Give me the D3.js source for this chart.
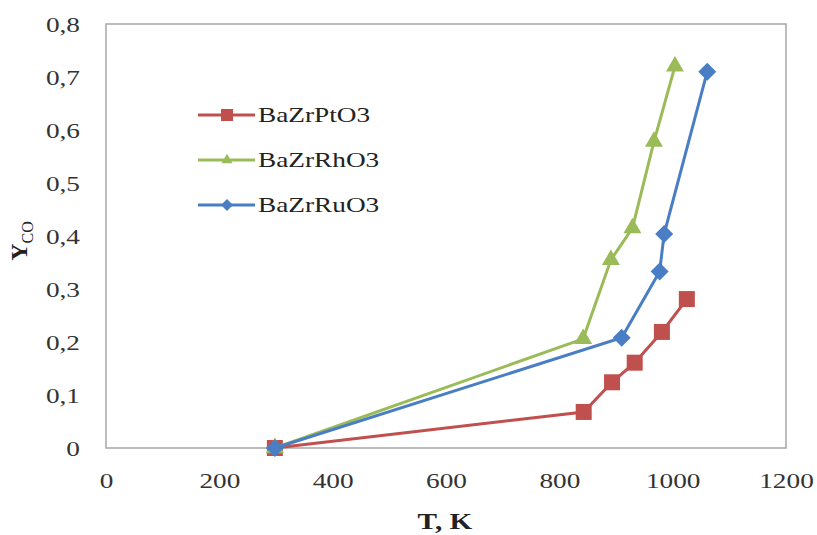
<!DOCTYPE html>
<html><head><meta charset="utf-8">
<script src="https://cdn.jsdelivr.net/npm/d3@7"></script>
<style>body{margin:0;background:#fff}svg{display:block}</style>
</head><body>
<svg id="c" width="817" height="535"></svg>
<script>
const seriesNames = ["BaZrPtO3", "BaZrRhO3", "BaZrRuO3"];
const ptT = [298, 843, 893, 933, 981, 1025];
const ptY = [0.0, 0.068, 0.124, 0.161, 0.219, 0.281];
const rhT = [298, 842, 891, 929, 967, 1004];
const rhY = [0.0, 0.206, 0.355, 0.415, 0.578, 0.72];
const ruT = [298, 910, 977, 985, 1061];
const ruY = [0.0, 0.208, 0.333, 0.404, 0.71];
const xTicks = [0, 200, 400, 600, 800, 1000, 1200];
const yTicks = [0, 0.1, 0.2, 0.3, 0.4, 0.5, 0.6, 0.7, 0.8];
const colors = ["#C0504D", "#9BBB59", "#4A7EC4"];

const svg = d3.select("#c");
const x = d3.scaleLinear().domain([0, 1200]).range([106, 786]);
const y = d3.scaleLinear().domain([0, 0.8]).range([448, 24]);
const fontT = "'Liberation Serif','Times New Roman',serif";
const SX = 1.3;

function marker(i, big) {
  if (i === 0) { const s = big ? 16 : 12; return d3.symbol().type(d3.symbolSquare).size(s * s)(); }
  if (i === 1) { const side = big ? 18 : 11; return d3.symbol().type(d3.symbolTriangle).size(Math.sqrt(3) / 4 * side * side)(); }
  const dg = big ? 18 : 12; const h = dg / 2;
  return `M0,${-h}L${h},0L0,${h}L${-h},0Z`;
}

// frame
svg.append("rect").attr("x", 106).attr("y", 24).attr("width", 680).attr("height", 424)
  .attr("fill", "none").attr("stroke", "#a6a6a6").attr("stroke-width", 1.5);

// axes
const xAxis = d3.axisBottom(x).tickValues(xTicks).tickSize(0).tickFormat(d3.format("d"));
const gx = svg.append("g").attr("transform", "translate(0,448)").call(xAxis);
gx.select(".domain").remove();
gx.selectAll("text").attr("dy", "0.35em").attr("y", 33).attr("x", 0)
  .attr("transform", `scale(${SX},1)`)
  .attr("font-size", 21).attr("font-family", fontT).attr("fill", "#333");

const yAxis = d3.axisLeft(y).tickValues(yTicks).tickSize(0).tickFormat(d => d === 0 ? "0" : d3.format(".1f")(d).replace(".", ","));
const gy = svg.append("g").attr("transform", "translate(106,0)").call(yAxis);
gy.select(".domain").remove();
gy.selectAll("text").attr("x", -26 / SX).attr("dy", "0.35em")
  .attr("transform", `scale(${SX},1)`)
  .attr("font-size", 21).attr("font-family", fontT).attr("fill", "#333");

// titles
svg.append("text").attr("transform", `translate(445,529) scale(1.22,1)`).attr("text-anchor", "middle")
  .attr("font-family", fontT).attr("font-weight", "bold").attr("font-size", 24).attr("fill", "#222").text("T, K");
const yt = svg.append("text").attr("transform", "translate(27,241) rotate(-90)").attr("text-anchor", "middle")
  .attr("font-family", fontT).attr("font-weight", "bold").attr("font-size", 24).attr("fill", "#222");
yt.append("tspan").text("Y");
yt.append("tspan").attr("font-size", 16).attr("font-weight", "normal").attr("dy", 6).text("CO");

// series
const data = [
  {name: seriesNames[0], T: ptT, Y: ptY},
  {name: seriesNames[1], T: rhT, Y: rhY},
  {name: seriesNames[2], T: ruT, Y: ruY}
];
const line = d3.line().x(d => x(d[0])).y(d => y(d[1]));
[0, 1, 2].forEach(i => {
  const s = data[i];
  const pts = s.T.map((t, k) => [t, s.Y[k]]);
  svg.append("path").attr("d", line(pts)).attr("fill", "none").attr("stroke", colors[i]).attr("stroke-width", 3);
  svg.append("g").selectAll("path").data(pts).join("path")
    .attr("transform", d => `translate(${x(d[0])},${y(d[1])})`)
    .attr("d", marker(i, true))
    .attr("fill", colors[i]);
});

// legend
const legY = [115, 160, 205];
data.forEach((s, i) => {
  const g = svg.append("g").attr("transform", `translate(0,${legY[i]})`);
  g.append("line").attr("x1", 198).attr("x2", 255).attr("y1", 0).attr("y2", 0).attr("stroke", colors[i]).attr("stroke-width", 3);
  g.append("path").attr("transform", "translate(227,0)").attr("d", marker(i, false)).attr("fill", colors[i]);
  g.append("text").attr("transform", `translate(258,0) scale(${SX},1)`).attr("dy", "0.35em")
    .attr("font-family", fontT).attr("font-size", 21).attr("fill", "#222").text(s.name);
});
</script>
</body></html>
